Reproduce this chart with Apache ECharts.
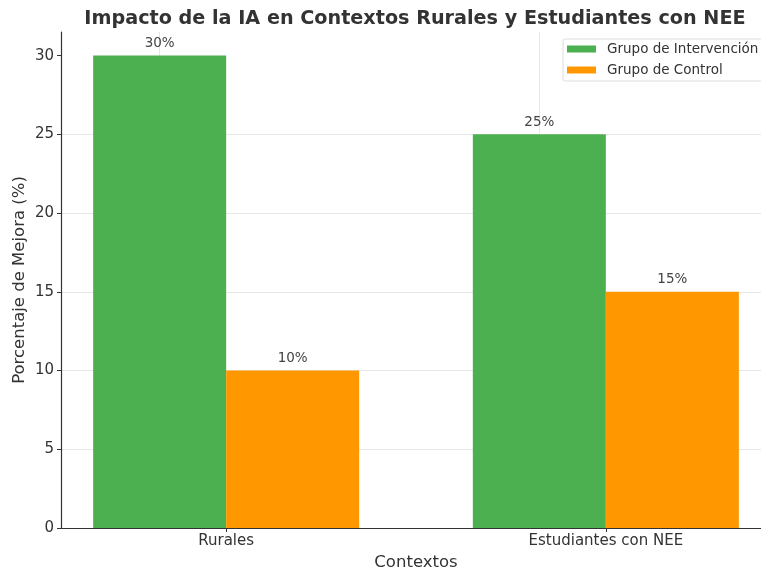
<!DOCTYPE html>
<html>
<head>
<meta charset="utf-8">
<script src="https://cdn.jsdelivr.net/npm/echarts@6/dist/echarts.min.js"></script>
<style>
html,body{margin:0;padding:0;background:#fff;}
#chart{width:761px;height:571px;}
</style>
</head>
<body>
<div id="chart"></div>
<script>
var categories = ['Rurales', 'Estudiantes con NEE'];
var intervencion = [30, 25];
var control = [10, 15];
var yTicks = [0, 5, 10, 15, 20, 25, 30];
var seriesNames = ['Grupo de Intervención', 'Grupo de Control'];

var font = 'DejaVu Sans';
var chart = echarts.init(document.getElementById('chart'), null, {renderer: 'canvas'});

function toPairs(arr) { return arr.map(function (v, i) { return [i, v]; }); }
var labelCfg = {
  show: true, position: 'top', distance: 5,
  fontFamily: font, fontSize: 13.5, color: '#444',
  formatter: function (p) { return p.value[1] + '%'; }
};
var gridLine = {color: '#e6e6e6', type: 'solid', width: 1};

chart.setOption({
  animation: false,
  backgroundColor: '#fff',
  title: {
    text: 'Impacto de la IA en Contextos Rurales y Estudiantes con NEE',
    left: 410, top: 5, textAlign: 'center',
    textStyle: {fontFamily: font, fontSize: 19.2, fontWeight: 'bold', color: '#333'}
  },
  legend: {
    data: seriesNames,
    orient: 'vertical',
    left: 563, top: 39,
    itemWidth: 29, itemHeight: 7, itemGap: 7,
    padding: [3, 20, 4, 4],
    borderColor: '#ddd', borderWidth: 1, borderRadius: 2,
    backgroundColor: 'rgba(255,255,255,0.85)',
    icon: 'rect',
    textStyle: {fontFamily: font, fontSize: 13.5, color: '#333', padding: [0, 0, 0, 6]}
  },
  grid: {left: 61, top: 32, width: 710, bottom: 43, containLabel: false, outerBoundsMode: 'none'},
  xAxis: {
    type: 'value', min: -0.435, max: 1.435,
    name: 'Contextos', nameLocation: 'middle', nameGap: 25,
    nameTextStyle: {fontFamily: font, fontSize: 16.5, color: '#333'},
    axisLine: {show: true, onZero: false, lineStyle: {color: '#333', width: 1.2}},
    axisTick: {show: true, length: 4, customValues: [0, 1], lineStyle: {color: '#333'}},
    axisLabel: {
      customValues: [0, 1], margin: 6,
      fontFamily: font, fontSize: 15, color: '#333',
      formatter: function (v) { return categories[Math.round(v)] || ''; }
    },
    splitLine: {show: false}
  },
  yAxis: {
    type: 'value', min: 0, max: 31.5, interval: 5,
    name: 'Porcentaje de Mejora (%)', nameLocation: 'middle', nameGap: 33,
    nameMoveOverlap: false,
    nameTextStyle: {fontFamily: font, fontSize: 16.5, color: '#333'},
    axisLine: {show: true, onZero: false, lineStyle: {color: '#333', width: 1.2}},
    axisTick: {show: true, length: 4, customValues: yTicks, lineStyle: {color: '#333'}},
    axisLabel: {customValues: yTicks, margin: 7, fontFamily: font, fontSize: 15, color: '#333'},
    splitLine: {show: true, showMaxLine: false, showMinLine: false, lineStyle: gridLine}
  },
  series: [
    {
      name: seriesNames[0], type: 'bar', data: toPairs(intervencion),
      barWidth: 133, barGap: '0%',
      itemStyle: {color: '#4CAF50'},
      label: labelCfg,
      markLine: {
        silent: true, symbol: 'none', label: {show: false},
        lineStyle: gridLine,
        data: categories.map(function (c, i) { return {xAxis: i}; }),
        z: 0
      },
      z: 2
    },
    {
      name: seriesNames[1], type: 'bar', data: toPairs(control),
      barWidth: 133, barGap: '0%',
      itemStyle: {color: '#FF9800'},
      label: labelCfg,
      z: 2
    }
  ]
});
</script>
</body>
</html>
